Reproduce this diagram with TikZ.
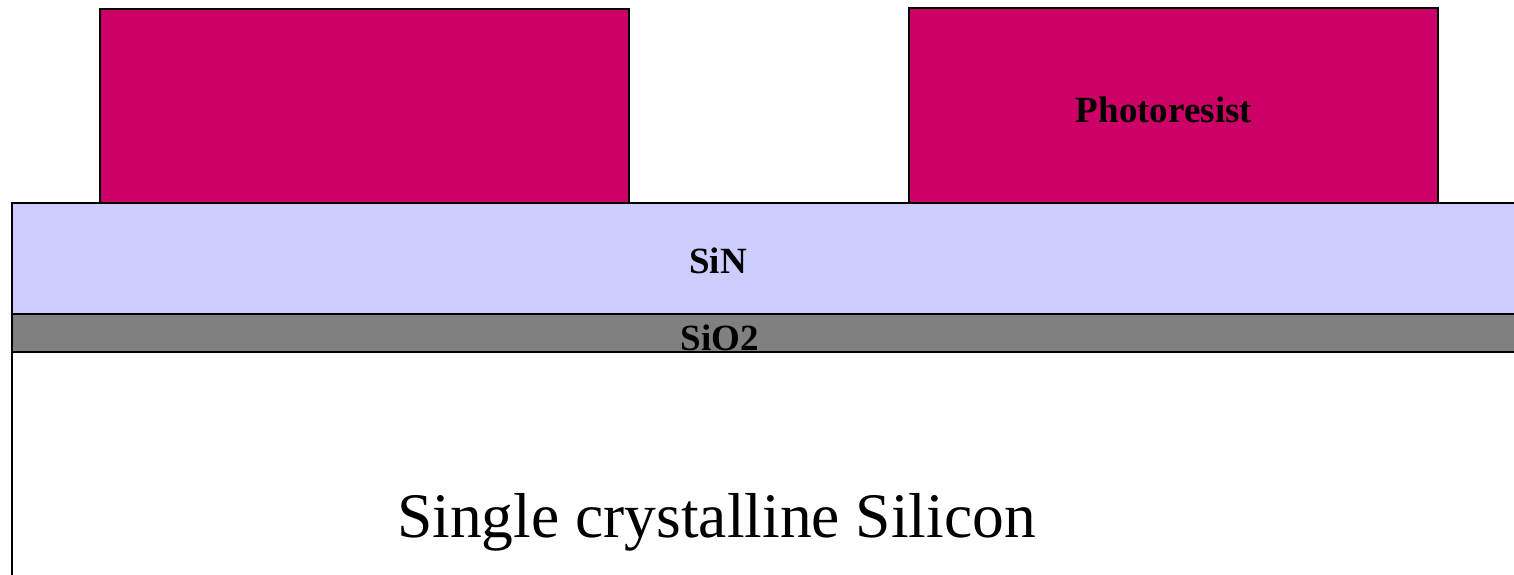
\documentclass[tikz,border=0pt]{standalone}
\usepackage{fontspec}
\setmainfont{Liberation Serif}
\definecolor{resist}{HTML}{CC0066}
\definecolor{nitride}{HTML}{CCCCFF}
\definecolor{oxide}{HTML}{808080}
\begin{document}
\begin{tikzpicture}[x=1pt,y=-1pt,
  layer/.style={draw=black, line width=2pt, inner sep=0pt, outer sep=0pt, anchor=north west},
  lbl/.style={font=\fontsize{37}{37}\selectfont\bfseries, inner sep=0pt, anchor=base},
  biglbl/.style={font=\fontsize{63.5}{64}\selectfont, inner sep=0pt, anchor=base}]
\useasboundingbox (0,0) rectangle (1514,575);
\clip (0,0) rectangle (1514,575);
\node[layer, fill=resist, minimum width=529pt, minimum height=194pt] (pr1) at (100,9) {};
\node[layer, fill=resist, minimum width=529pt, minimum height=195pt] (pr2) at (909,8) {};
\node[layer, fill=nitride, minimum width=1520pt, minimum height=111pt] (sin) at (12,203) {};
\node[layer, fill=oxide, minimum width=1520pt, minimum height=38pt] (sio) at (12,314) {};
\coordinate (sibot) at (12,590);
\draw[line width=2pt] (sio.south west) -- (sibot);
\node[lbl] (prtext) at (1164,123) {Photoresist};
\node[lbl] (sintext) at (718,273) {SiN};
\node[lbl] (siotext) at (720,350) {SiO2};
\node[biglbl] (sitext) at (716.5,537) {Single crystalline Silicon};
\end{tikzpicture}
\end{document}
